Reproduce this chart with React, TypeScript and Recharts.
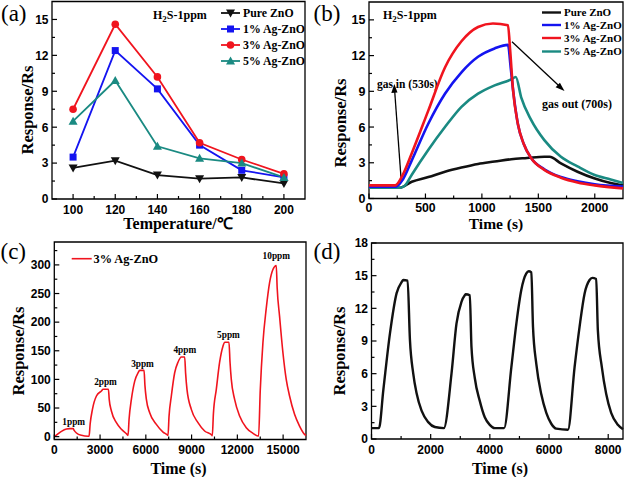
import React from 'react';
import { LineChart, Line, XAxis, YAxis, ReferenceArea, ReferenceDot } from 'recharts';

// ---------- colours / fonts ----------
const BLACK = '#111111';
const BLUE = '#1414f0';
const RED = '#f0141e';
const TEAL = '#1a8a82';
const SANS = "'Liberation Sans', Arial, sans-serif";
const SERIF = "'Liberation Serif', 'Times New Roman', serif";

// ---------- panel (a): response vs temperature ----------
const temperatures = [100, 120, 140, 160, 180, 200];
const pureZnO = [2.6, 3.2, 2.0, 1.7, 1.8, 1.3];
const ag1 = [3.5, 12.4, 9.2, 4.5, 2.4, 1.8];
const ag3 = [7.5, 14.6, 10.2, 4.7, 3.3, 2.1];
const ag5 = [6.5, 9.9, 4.4, 3.4, 3.0, 1.8];
const seriesNames = ['Pure ZnO', '1% Ag-ZnO', '3% Ag-ZnO', '5% Ag-ZnO'];
const aXMajor = [100, 120, 140, 160, 180, 200];
const aXMinor = [110, 130, 150, 170, 190];
const yMajor15 = [0, 3, 6, 9, 12, 15];
const yMinor15 = [1.5, 4.5, 7.5, 10.5, 13.5];

// ---------- panel (b): dynamic response, 1 ppm ----------
const bPureT = [0, 270, 379, 526, 673, 819, 966, 1113, 1260, 1400, 1553, 1600, 1700, 1847, 1994, 2141, 2250];
const bPureV = [0.9, 0.9, 1.4, 1.8, 2.25, 2.6, 2.9, 3.1, 3.3, 3.4, 3.5, 3.5, 2.95, 2.25, 1.7, 1.3, 1.1];
const b1T = [0, 240, 300, 379, 526, 673, 819, 966, 1113, 1231, 1255, 1280, 1320, 1370, 1436, 1553, 1700, 1847, 2000, 2250];
const b1V = [1.0, 1.0, 1.6, 3.2, 6.3, 8.8, 10.6, 11.9, 12.6, 12.9, 11.0, 8.8, 6.2, 4.6, 3.4, 2.45, 1.8, 1.45, 1.2, 1.0];
const b3T = [0, 232, 300, 379, 526, 673, 819, 966, 1098, 1231, 1250, 1275, 1318, 1370, 1436, 1553, 1700, 1847, 2000, 2250];
const b3V = [1.1, 1.1, 2.0, 3.8, 7.4, 11.0, 13.2, 14.4, 14.7, 14.55, 12.5, 9.2, 6.3, 4.6, 3.4, 2.4, 1.75, 1.35, 1.1, 0.85];
const b5T = [0, 280, 320, 379, 526, 673, 819, 966, 1113, 1260, 1300, 1348, 1436, 1553, 1700, 1847, 1994, 2141, 2250];
const b5V = [0.9, 0.9, 1.1, 2.0, 4.1, 6.0, 7.7, 8.8, 9.5, 10.0, 10.2, 8.5, 6.6, 4.9, 3.5, 2.7, 2.0, 1.6, 1.3];
const bXMajor = [0, 500, 1000, 1500, 2000];
const bXMinor = [250, 750, 1250, 1750];

// ---------- panel (c): concentration steps ----------
const cT = [
  0, 200, 470, 797, 1000, 1234, 1300, 1452, 1780, 2216,
  2281, 2350, 2500, 2762, 3089, 3198, 3547, 3600, 3744, 4071, 4399, 4770,
  4835, 4900, 5053, 5272, 5490, 5599, 5883, 5940, 6036, 6254, 6690, 7127, 7389,
  7455, 7520, 7673, 7891, 8109, 8328, 8546, 8610, 8698, 8982, 9419, 9855, 10336,
  10358, 10430, 10620, 10838, 11057, 11166, 11450, 11520, 11603, 11821, 12148, 12585, 13022, 13349,
  13392, 13500, 13676, 13894, 14113, 14331, 14550, 14610, 14768, 14986, 15204, 15423, 15750, 16077, 16405, 16500,
];
const cV = [
  0, 4, 9.3, 13.4, 14, 14, 11, 6.4, 2.3, 0.8,
  0.8, 22, 47.6, 71, 79.8, 82.7, 82.7, 65, 44.8, 24.4, 12.8, 4,
  2, 30, 65, 97, 111.6, 115.7, 115.7, 90, 65, 41.7, 21.4, 8, 3.5,
  2, 35, 71, 111.6, 130, 139, 139, 110, 82.5, 47.6, 24.4, 9.8, 2.3,
  1.5, 40, 82.5, 130, 158, 165, 165, 130, 100, 65, 36, 15.6, 5.8, 1,
  1, 80, 164, 224, 269, 292, 299, 260, 210, 147, 100, 71, 39, 18.5, 4, 2,
];
const peakLabels = ['1ppm', '2ppm', '3ppm', '4ppm', '5ppm', '10ppm'];
const peakLabelT = [1272, 3356, 5782, 8554, 11419, 14553];
const peakLabelV = [26, 96, 127, 151, 178, 316];
const cXMajor = [0, 3000, 6000, 9000, 12000, 15000];
const cXMinor = [1500, 4500, 7500, 10500, 13500];
const cYMajor = [0, 50, 100, 150, 200, 250, 300];
const cYMinor = [25, 75, 125, 175, 225, 275, 325];

// ---------- panel (d): repeatability ----------
const dT = [
  0, 253, 400, 624, 849, 1018, 1074, 1220, 1299, 1411, 1524, 1692, 1917, 2142, 2445,
  2704, 2872, 3041, 3153, 3187, 3322, 3378, 3491, 3659, 3828, 3997, 4165, 4480,
  4727, 4896, 5064, 5233, 5312, 5402, 5458, 5570, 5739, 5908, 6076, 6245, 6639,
  6864, 7032, 7201, 7369, 7459, 7594, 7650, 7785, 7931, 8100, 8325, 8500,
];
const dV = [
  1.0, 1.0, 4.5, 9.7, 13.4, 14.4, 14.6, 14.55, 9.1, 6.0, 4.2, 2.6, 1.55, 1.1, 1.0,
  6.0, 10.6, 12.6, 13.2, 13.3, 13.2, 8.5, 5.6, 3.5, 2.0, 1.3, 1.0, 1.0,
  6.6, 10.6, 13.7, 15.2, 15.4, 15.3, 10.3, 6.9, 4.1, 2.4, 1.4, 0.95, 0.85,
  6.6, 10.3, 13.35, 14.6, 14.8, 14.7, 10.0, 6.6, 4.15, 2.4, 1.3, 0.9,
];
const dXMajor = [0, 2000, 4000, 6000, 8000];
const dXMinor = [1000, 3000, 5000, 7000];
const dYMajor = [0, 3, 6, 9, 12, 15, 18];
const dYMinor = [1.5, 4.5, 7.5, 10.5, 13.5, 16.5];

// ---------- built tables ----------
const tempData = temperatures.map((t, i) => ({ t, pure: pureZnO[i], a1: ag1[i], a3: ag3[i], a5: ag5[i] }));
const zip = (ts: number[], vs: number[]) => ts.map((t, i) => ({ t, v: vs[i] }));
const bPure = zip(bPureT, bPureV);
const b1 = zip(b1T, b1V);
const b3 = zip(b3T, b3V);
const b5 = zip(b5T, b5V);
const cData = zip(cT, cV);
const dData = zip(dT, dV);

// ---------- helpers ----------
const GAP = 2;
function makeTick(orient: 'x' | 'y', majors: number[], fs: number, off = 14.5) {
  return (props: any) => {
    const { x, y, payload } = props;
    const v = payload.value;
    const major = majors.includes(v);
    const len = major ? 5 : 3;
    if (orient === 'x') {
      const ay = y - GAP;
      return (
        <g>
          <line x1={x} x2={x} y1={ay} y2={ay - len} stroke="#000" strokeWidth={1.2} />
          {major && (
            <text x={x} y={ay + off} textAnchor="middle" fontFamily={SANS} fontWeight="bold" fontSize={fs} fill="#000">
              {v}
            </text>
          )}
        </g>
      );
    }
    const ax = x + GAP;
    return (
      <g>
        <line x1={ax} x2={ax + len} y1={y} y2={y} stroke="#000" strokeWidth={1.2} />
        {major && (
          <text x={ax - 3.5} y={y + fs * 0.36} textAnchor="end" fontFamily={SANS} fontWeight="bold" fontSize={fs} fill="#000">
            {v}
          </text>
        )}
      </g>
    );
  };
}

function Marker({ shape, cx, cy, color }: { shape: string; cx: number; cy: number; color: string }) {
  if (shape === 'triDown')
    return <polygon points={`${cx - 4.5},${cy - 3.5} ${cx + 4.5},${cy - 3.5} ${cx},${cy + 4.5}`} fill={color} />;
  if (shape === 'triUp')
    return <polygon points={`${cx - 4.5},${cy + 3.5} ${cx + 4.5},${cy + 3.5} ${cx},${cy - 4.5}`} fill={color} />;
  if (shape === 'square') return <rect x={cx - 3.5} y={cy - 3.5} width={7} height={7} fill={color} />;
  return <circle cx={cx} cy={cy} r={3.8} fill={color} />;
}

const dotFn = (shape: string, color: string) => (p: any) => (
  <Marker key={`${shape}-${p.index}`} shape={shape} cx={p.cx} cy={p.cy} color={color} />
);

const panelLabel = (s: string, x: number, y: number) => (
  <text x={x} y={y} fontFamily={SERIF} fontSize={23} fill="#000">
    {s}
  </text>
);

const yTitle = (x: number, y: number) => (
  <text x={x} y={y} transform={`rotate(-90 ${x} ${y})`} textAnchor="middle" dominantBaseline="central" fontFamily={SERIF} fontWeight="bold" fontSize={16.5} fill="#000">
    Response/Rs
  </text>
);

const xTitle = (s: string, x: number, y: number, fs = 16) => (
  <text x={x} y={y} textAnchor="middle" fontFamily={SERIF} fontWeight="bold" fontSize={fs} fill="#000">
    {s}
  </text>
);

const h2s = (x: number, y: number) => (
  <text x={x} y={y} fontFamily={SERIF} fontWeight="bold" fontSize={12} fill="#000">
    H<tspan fontSize={9} dy={3}>2</tspan>
    <tspan dy={-3}>S-1ppm</tspan>
  </text>
);

// ---------- panels ----------
function PanelA() {
  const shapes = ['triDown', 'square', 'circle', 'triUp'];
  const colors = [BLACK, BLUE, RED, TEAL];
  const legY = [13, 29, 45, 61];
  return (
    <LineChart width={312} height={240} data={tempData} margin={{ top: 1.5, right: 7, bottom: 11, left: 0 }}>
      <XAxis dataKey="t" type="number" domain={[90, 210]} ticks={[...aXMajor, ...aXMinor].sort((a, b) => a - b)} interval={0}
        tickSize={0} tickMargin={GAP} axisLine={false} tick={makeTick('x', aXMajor, 12)} height={30} />
      <YAxis type="number" domain={[0, 16.5]} ticks={[...yMajor15, ...yMinor15].sort((a, b) => a - b)} interval={0}
        tickSize={0} tickMargin={GAP} axisLine={false} tick={makeTick('y', yMajor15, 12)} width={52} />
      <ReferenceArea x1={90} x2={210} y1={0} y2={16.5} fill="none" stroke="#000" strokeWidth={1.3} ifOverflow="visible" />
      <Line dataKey="pure" stroke={BLACK} strokeWidth={1.8} dot={dotFn('triDown', BLACK)} isAnimationActive={false} />
      <Line dataKey="a1" stroke={BLUE} strokeWidth={1.8} dot={dotFn('square', BLUE)} isAnimationActive={false} />
      <Line dataKey="a3" stroke={RED} strokeWidth={1.8} dot={dotFn('circle', RED)} isAnimationActive={false} />
      <Line dataKey="a5" stroke={TEAL} strokeWidth={1.8} dot={dotFn('triUp', TEAL)} isAnimationActive={false} />
      {seriesNames.map((n, i) => (
        <g key={n}>
          <line x1={221} x2={240} y1={legY[i]} y2={legY[i]} stroke={colors[i]} strokeWidth={1.8} />
          <Marker shape={shapes[i]} cx={230.5} cy={legY[i]} color={colors[i]} />
          <text x={243} y={legY[i] + 4} fontFamily={SERIF} fontWeight="bold" fontSize={11.8} fill="#000">{n}</text>
        </g>
      ))}
      {h2s(153, 19)}
      {panelLabel('(a)', 1, 21)}
      {yTitle(27, 110)}
      {xTitle('Temperature/℃', 178, 229)}
    </LineChart>
  );
}

function PanelB() {
  const colors = [BLACK, BLUE, RED, TEAL];
  const legY = [12.5, 25, 38, 51.5];
  return (
    <LineChart width={313} height={240} margin={{ top: 2, right: 2, bottom: 11.5, left: 0 }}>
      <XAxis dataKey="t" type="number" domain={[0, 2250]} ticks={[...bXMajor, ...bXMinor].sort((a, b) => a - b)} interval={0}
        tickSize={0} tickMargin={GAP} axisLine={false} tick={makeTick('x', bXMajor, 12.3, 13.5)} height={30} allowDuplicatedCategory={false} />
      <YAxis type="number" domain={[0, 16.5]} ticks={[...yMajor15, ...yMinor15].sort((a, b) => a - b)} interval={0}
        tickSize={0} tickMargin={GAP} axisLine={false} tick={makeTick('y', yMajor15, 12.5)} width={57} />
      <ReferenceArea x1={0} x2={2250} y1={0} y2={16.5} fill="none" stroke="#000" strokeWidth={1.3} ifOverflow="visible" />
      <Line data={bPure} dataKey="v" type="monotone" stroke={BLACK} strokeWidth={2.6} dot={false} isAnimationActive={false} />
      <Line data={b5} dataKey="v" type="monotone" stroke={TEAL} strokeWidth={2.6} dot={false} isAnimationActive={false} />
      <Line data={b1} dataKey="v" type="monotone" stroke={BLUE} strokeWidth={2.6} dot={false} isAnimationActive={false} />
      <Line data={b3} dataKey="v" type="monotone" stroke={RED} strokeWidth={2.6} dot={false} isAnimationActive={false} />
      {seriesNames.map((n, i) => (
        <g key={n}>
          <line x1={230} x2={249} y1={legY[i]} y2={legY[i]} stroke={colors[i]} strokeWidth={2.4} />
          <text x={252} y={legY[i] + 3.8} fontFamily={SERIF} fontWeight="bold" fontSize={11} fill="#000">{n}</text>
        </g>
      ))}
      {h2s(71, 19)}
      <text x={65} y={87.5} fontFamily={SERIF} fontWeight="bold" fontSize={11.5} fill="#000">gas in (530s)</text>
      <line x1={89.3} y1={181.7} x2={82.6} y2={90} stroke="#000" strokeWidth={1.3} />
      <polygon points="82.3,84 79.3,93 85.5,92.6" fill="#000" />
      <text x={230} y={107.5} fontFamily={SERIF} fontWeight="bold" fontSize={12} fill="#000">gas out (700s)</text>
      <line x1={200} y1={41.7} x2={248.5} y2={87.2} stroke="#000" strokeWidth={1.3} />
      <polygon points="252.5,91 243.6,87.3 247.9,82.7" fill="#000" />
      {panelLabel('(b)', 1.5, 21)}
      {yTitle(28.3, 123)}
      {xTitle('Time (s)', 184, 229, 15.5)}
    </LineChart>
  );
}

function PanelC() {
  return (
    <LineChart width={312} height={237} data={cData} margin={{ top: 2, right: 6, bottom: 7.5, left: 0 }}>
      <XAxis dataKey="t" type="number" domain={[0, 16500]} ticks={[...cXMajor, ...cXMinor].sort((a, b) => a - b)} interval={0}
        tickSize={0} tickMargin={GAP} axisLine={false} tick={makeTick('x', cXMajor, 12)} height={30} />
      <YAxis type="number" domain={[-5, 340]} ticks={[...cYMajor, ...cYMinor].sort((a, b) => a - b)} interval={0}
        tickSize={0} tickMargin={GAP} axisLine={false} tick={makeTick('y', cYMajor, 12)} width={54.3} />
      <ReferenceArea x1={0} x2={16500} y1={-5} y2={340} fill="none" stroke="#000" strokeWidth={1.3} ifOverflow="visible" />
      <Line dataKey="v" type="monotone" stroke={RED} strokeWidth={1.6} dot={false} isAnimationActive={false} />
      {peakLabels.map((s, i) => (
        <ReferenceDot key={s} x={peakLabelT[i]} y={peakLabelV[i]} r={0} fill="none" stroke="none"
          label={{ value: s, position: 'center', fontFamily: SERIF, fontWeight: 'bold', fontSize: 9.3, fill: '#000' }} />
      ))}
      <line x1={71.7} x2={91.7} y1={18.7} y2={18.7} stroke={RED} strokeWidth={1.6} />
      <text x={93.5} y={22.7} fontFamily={SERIF} fontWeight="bold" fontSize={12.3} fill="#000">3% Ag-ZnO</text>
      {panelLabel('(c)', 0.5, 19)}
      {yTitle(18.5, 111)}
      {xTitle('Time (s)', 178.5, 233.5)}
    </LineChart>
  );
}

function PanelD() {
  return (
    <LineChart width={313} height={237} data={dData} margin={{ top: 3, right: 2, bottom: 8, left: 0 }}>
      <XAxis dataKey="t" type="number" domain={[0, 8500]} ticks={[...dXMajor, ...dXMinor].sort((a, b) => a - b)} interval={0}
        tickSize={0} tickMargin={GAP} axisLine={false} tick={makeTick('x', dXMajor, 12)} height={30} />
      <YAxis type="number" domain={[0, 18]} ticks={[...dYMajor, ...dYMinor].sort((a, b) => a - b)} interval={0}
        tickSize={0} tickMargin={GAP} axisLine={false} tick={makeTick('y', dYMajor, 12)} width={59.5} />
      <ReferenceArea x1={0} x2={8500} y1={0} y2={18} fill="none" stroke="#000" strokeWidth={1.3} ifOverflow="visible" />
      <Line dataKey="v" type="monotone" stroke={BLACK} strokeWidth={2.4} dot={false} isAnimationActive={false} />
      {panelLabel('(d)', 1.5, 19)}
      {yTitle(27, 111)}
      {xTitle('Time (s)', 188, 234)}
    </LineChart>
  );
}

export default function App() {
  const box = (left: number, top: number): React.CSSProperties => ({ position: 'absolute', left, top });
  return (
    <div style={{ position: 'absolute', left: 0, top: 0, width: 625, height: 477, background: '#fff', overflow: 'hidden' }}>
      <style>{`.recharts-wrapper svg, .recharts-surface { overflow: visible; }`}</style>
      <div style={box(0, 0)}><PanelA /></div>
      <div style={box(312, 0)}><PanelB /></div>
      <div style={box(0, 240)}><PanelC /></div>
      <div style={box(312, 240)}><PanelD /></div>
    </div>
  );
}
